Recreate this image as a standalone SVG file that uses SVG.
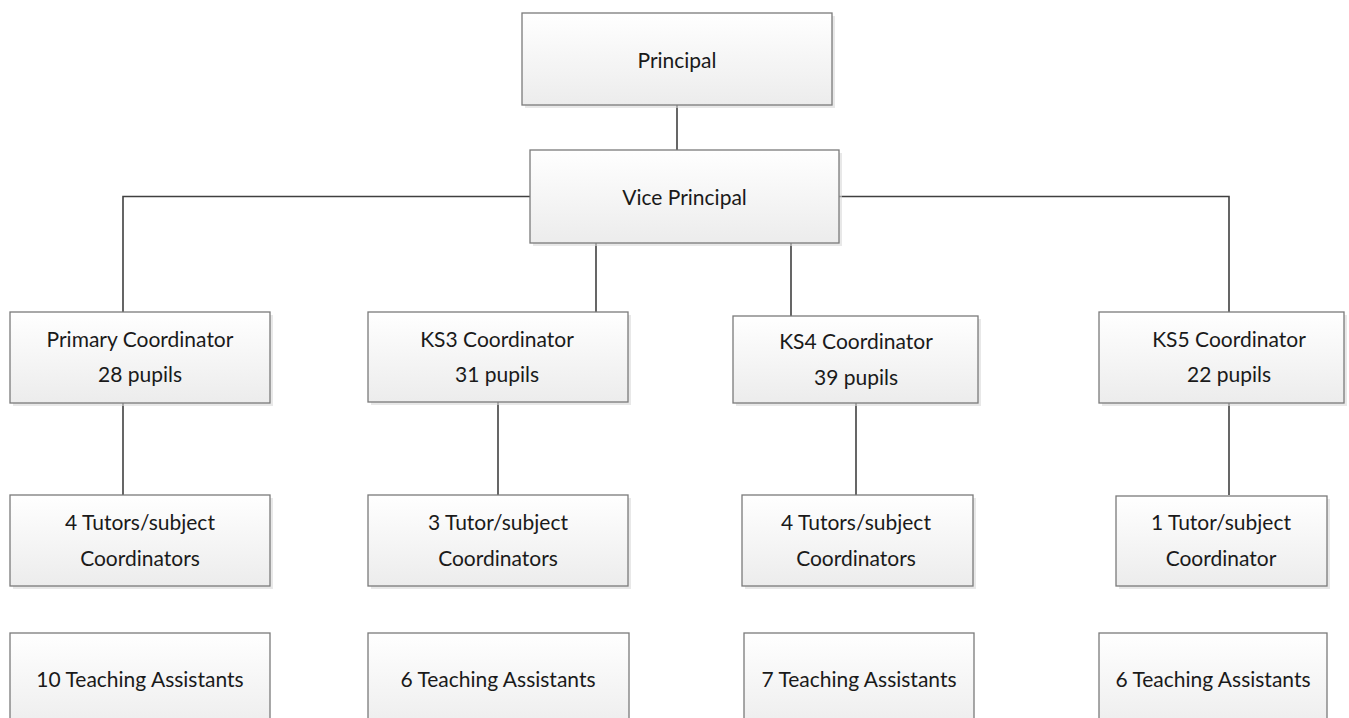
<svg xmlns="http://www.w3.org/2000/svg" width="1349" height="718" viewBox="0 0 1349 718">
<defs>
<linearGradient id="g" x1="0" y1="0" x2="0" y2="1">
<stop offset="0" stop-color="#ffffff"/>
<stop offset="1" stop-color="#ececec"/>
</linearGradient>
<style>
.box{fill:url(#g);stroke:#7a7a7a;stroke-width:1.3}
.sh{fill:#d9d9d9;opacity:0.6}
.t{font-family:Lato,"Liberation Sans",sans-serif;font-size:21px;fill:#1a1a1a;text-anchor:middle}
.c{stroke:#404040;stroke-width:1.6;fill:none}
</style>
</defs>
<rect width="1349" height="718" fill="#ffffff"/>
<g id="connectors">
<line class="c" x1="677" y1="105" x2="677" y2="150"/>
<polyline class="c" points="530,196.5 123,196.5 123,312"/>
<polyline class="c" points="839,196.5 1229,196.5 1229,312"/>
<line class="c" x1="596" y1="243" x2="596" y2="312"/>
<line class="c" x1="791" y1="243" x2="791" y2="316"/>
<line class="c" x1="123" y1="403" x2="123" y2="495"/>
<line class="c" x1="498" y1="402" x2="498" y2="495"/>
<line class="c" x1="856" y1="403" x2="856" y2="495"/>
<line class="c" x1="1229" y1="403" x2="1229" y2="495"/>
</g>
<g id="principal">
<rect class="sh" x="525" y="16" width="310" height="92"/>
<rect class="box" x="522" y="13" width="310" height="92"/>
<text class="t" x="677" y="68">Principal</text>
</g>
<g id="vice-principal">
<rect class="sh" x="533" y="153" width="309" height="93"/>
<rect class="box" x="530" y="150" width="309" height="93"/>
<text class="t" x="684.5" y="205">Vice Principal</text>
</g>
<g id="primary-coordinator">
<rect class="sh" x="13" y="315" width="260" height="91"/>
<rect class="box" x="10" y="312" width="260" height="91"/>
<text class="t" x="140" y="347">Primary Coordinator</text>
<text class="t" x="140" y="382">28 pupils</text>
</g>
<g id="ks3-coordinator">
<rect class="sh" x="371" y="315" width="260" height="90"/>
<rect class="box" x="368" y="312" width="260" height="90"/>
<text class="t" x="497" y="347">KS3 Coordinator</text>
<text class="t" x="497" y="382">31 pupils</text>
</g>
<g id="ks4-coordinator">
<rect class="sh" x="736" y="319" width="245" height="87"/>
<rect class="box" x="733" y="316" width="245" height="87"/>
<text class="t" x="856" y="349">KS4 Coordinator</text>
<text class="t" x="856" y="385">39 pupils</text>
</g>
<g id="ks5-coordinator">
<rect class="sh" x="1102" y="315" width="245" height="91"/>
<rect class="box" x="1099" y="312" width="245" height="91"/>
<text class="t" x="1229" y="347">KS5 Coordinator</text>
<text class="t" x="1229" y="382">22 pupils</text>
</g>
<g id="primary-tutors">
<rect class="sh" x="13" y="498" width="260" height="91"/>
<rect class="box" x="10" y="495" width="260" height="91"/>
<text class="t" x="140" y="530">4 Tutors/subject</text>
<text class="t" x="140" y="566">Coordinators</text>
</g>
<g id="ks3-tutors">
<rect class="sh" x="371" y="498" width="260" height="91"/>
<rect class="box" x="368" y="495" width="260" height="91"/>
<text class="t" x="498" y="530">3 Tutor/subject</text>
<text class="t" x="498" y="566">Coordinators</text>
</g>
<g id="ks4-tutors">
<rect class="sh" x="745" y="498" width="231" height="91"/>
<rect class="box" x="742" y="495" width="231" height="91"/>
<text class="t" x="856" y="530">4 Tutors/subject</text>
<text class="t" x="856" y="566">Coordinators</text>
</g>
<g id="ks5-tutors">
<rect class="sh" x="1119" y="499" width="211" height="90"/>
<rect class="box" x="1116" y="496" width="211" height="90"/>
<text class="t" x="1221" y="530">1 Tutor/subject</text>
<text class="t" x="1221" y="566">Coordinator</text>
</g>
<g id="primary-ta">
<rect class="box" x="10" y="633" width="260" height="100"/>
<text class="t" x="140" y="687">10 Teaching Assistants</text>
</g>
<g id="ks3-ta">
<rect class="box" x="368" y="633" width="261" height="100"/>
<text class="t" x="498" y="687">6 Teaching Assistants</text>
</g>
<g id="ks4-ta">
<rect class="box" x="744" y="633" width="230" height="100"/>
<text class="t" x="859" y="687">7 Teaching Assistants</text>
</g>
<g id="ks5-ta">
<rect class="box" x="1099" y="633" width="228" height="100"/>
<text class="t" x="1213" y="687">6 Teaching Assistants</text>
</g>
</svg>
